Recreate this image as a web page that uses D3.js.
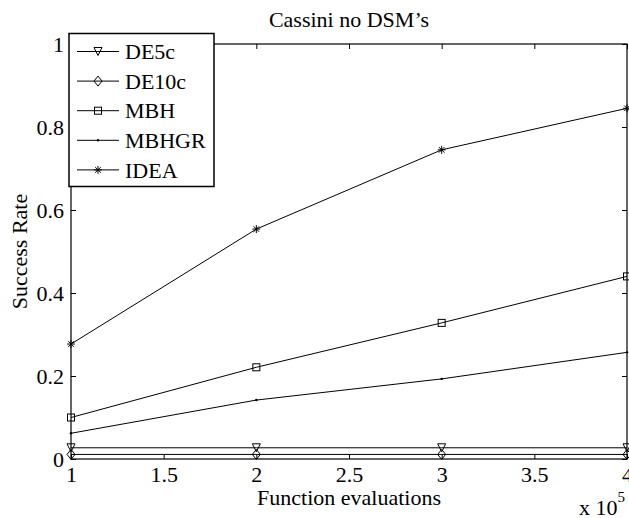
<!DOCTYPE html>
<html><head><meta charset="utf-8">
<script src="https://cdn.jsdelivr.net/npm/d3@7"></script>
<style>body{margin:0;background:#fff}svg{display:block}svg text{font-family:"Liberation Serif","Times New Roman",serif !important;fill:#000}</style>
</head><body>
<script>
const xValues = [1, 2, 3, 4];
const seriesNames = ["DE5c", "DE10c", "MBH", "MBHGR", "IDEA"];
const de5c  = [0.027, 0.027, 0.027, 0.027];
const de10c = [0.011, 0.011, 0.011, 0.011];
const mbh   = [0.100, 0.221, 0.328, 0.440];
const mbhgr = [0.062, 0.142, 0.193, 0.257];
const idea  = [0.277, 0.554, 0.745, 0.845];
const markers = ["triDown", "diamond", "square", "dot", "star"];
const xTicks = [1, 1.5, 2, 2.5, 3, 3.5, 4];
const yTicks = [0, 0.2, 0.4, 0.6, 0.8, 1];

const W = 629, H = 518;
const L = 71, R = 627, T = 44, B = 459;
const FONT = "'Liberation Serif', 'Times New Roman', serif";
const svg = d3.select("body").append("svg").attr("width", W).attr("height", H);
const x = d3.scaleLinear().domain([1, 4]).range([L, R]);
const y = d3.scaleLinear().domain([0, 1]).range([B, T]);
const allSeries = [de5c, de10c, mbh, mbhgr, idea];

function drawMarker(g, type, cx, cy) {
  const s = 4;
  if (type === "triDown") {
    g.append("path").attr("d", `M${cx-s},${cy-s}L${cx+s},${cy-s}L${cx},${cy+s}Z`).attr("fill", "none").attr("stroke", "#000");
  } else if (type === "diamond") {
    g.append("path").attr("d", `M${cx},${cy-s-1}L${cx+s},${cy}L${cx},${cy+s+1}L${cx-s},${cy}Z`).attr("fill", "none").attr("stroke", "#000");
  } else if (type === "square") {
    g.append("rect").attr("x", cx-3.5).attr("y", cy-3.5).attr("width", 7).attr("height", 7).attr("fill", "none").attr("stroke", "#000");
  } else if (type === "dot") {
    g.append("circle").attr("cx", cx).attr("cy", cy).attr("r", 1.2).attr("fill", "#000");
  } else if (type === "star") {
    const r = 4;
    g.append("path").attr("d",
      `M${cx-r},${cy}L${cx+r},${cy}M${cx},${cy-r}L${cx},${cy+r}` +
      `M${cx-r*0.7},${cy-r*0.7}L${cx+r*0.7},${cy+r*0.7}M${cx-r*0.7},${cy+r*0.7}L${cx+r*0.7},${cy-r*0.7}`)
      .attr("stroke", "#000").attr("fill", "none");
  }
}

// axes box with inward ticks
const ax = svg.append("g");
ax.append("g").attr("transform", `translate(0,${B})`)
  .call(d3.axisBottom(x).tickValues(xTicks).tickSize(-5).tickPadding(7).tickFormat(d3.format("")))
  .call(g => { g.attr("font-family", FONT).attr("font-size", 22); g.select(".domain").remove(); g.selectAll("text").attr("dy", "0.72em").style("font-family", FONT); });
ax.append("g").attr("transform", `translate(0,${T})`)
  .call(d3.axisTop(x).tickValues(xTicks).tickSize(-5).tickFormat(""))
  .call(g => g.select(".domain").remove());
ax.append("g").attr("transform", `translate(${L},0)`)
  .call(d3.axisLeft(y).tickValues(yTicks).tickSize(-5).tickPadding(7).tickFormat(d3.format("")))
  .call(g => { g.attr("font-family", FONT).attr("font-size", 22); g.select(".domain").remove(); g.selectAll("text").style("font-family", FONT); });
ax.append("g").attr("transform", `translate(${R},0)`)
  .call(d3.axisRight(y).tickValues(yTicks).tickSize(-5).tickFormat(""))
  .call(g => g.select(".domain").remove());
ax.selectAll(".tick line").attr("stroke", "#000");
svg.append("rect").attr("x", L).attr("y", T).attr("width", R - L).attr("height", B - T)
  .attr("fill", "none").attr("stroke", "#000").attr("stroke-width", 1.2);

// series
const line = d3.line().x((d, i) => x(xValues[i])).y(d => y(d));
allSeries.forEach((vals, k) => {
  const g = svg.append("g");
  g.append("path").attr("d", line(vals)).attr("fill", "none").attr("stroke", "#000").attr("stroke-width", 1);
  vals.forEach((v, i) => drawMarker(g, markers[k], x(xValues[i]), y(v)));
});

// title and labels
svg.append("text").attr("x", (L + R) / 2).attr("y", 27).attr("text-anchor", "middle").attr("font-size", 22).style("font-family", FONT).text("Cassini no DSM’s");
svg.append("text").attr("x", (L + R) / 2).attr("y", 505).attr("text-anchor", "middle").attr("font-size", 22).style("font-family", FONT).text("Function evaluations");
svg.append("text").attr("transform", `translate(27,${(T + B) / 2}) rotate(-90)`).attr("text-anchor", "middle").attr("font-size", 22).style("font-family", FONT).text("Success Rate");
const ex = svg.append("text").attr("x", 579).attr("y", 515).attr("font-size", 22).style("font-family", FONT);
ex.append("tspan").text("x 10");
ex.append("tspan").attr("font-size", 15).attr("dy", -13).text("5");

// legend
const lg = svg.append("g");
lg.append("rect").attr("x", 69).attr("y", 33.5).attr("width", 145).attr("height", 153)
  .attr("fill", "#fff").attr("stroke", "#000").attr("stroke-width", 1.5);
seriesNames.forEach((name, k) => {
  const cy = 51.5 + k * 29.6;
  lg.append("line").attr("x1", 77).attr("x2", 119).attr("y1", cy).attr("y2", cy).attr("stroke", "#000");
  drawMarker(lg, markers[k], 98, cy);
  lg.append("text").attr("x", 125).attr("y", cy).attr("dy", "0.35em").attr("font-size", 22).style("font-family", FONT).text(name);
});
</script>
</body></html>
